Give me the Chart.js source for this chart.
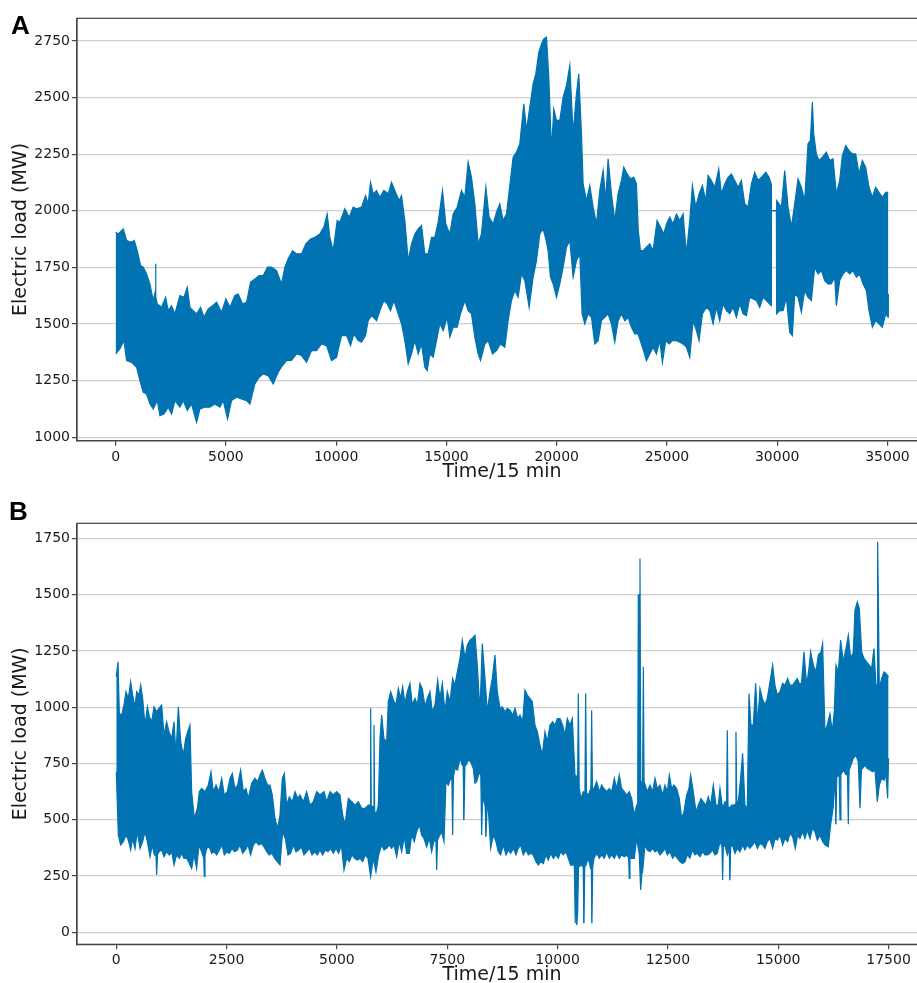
<!DOCTYPE html>
<html lang="en">
<head>
<meta charset="UTF-8">
<title>Electric load</title>
<script src="https://cdn.jsdelivr.net/npm/chart.js@4.4.0/dist/chart.umd.min.js"></script>
<style>
    body {
        margin: 0;
        width: 917px;
        height: 983px;
        overflow: hidden;
        background: #fff;
        position: relative;
    }

    canvas {
        position: absolute;
        left: 0;
    }

    .panel-letter {
        position: absolute;
        font-family: "Liberation Sans", Arial, sans-serif;
        font-weight: bold;
        font-size: 26px;
        line-height: 30px;
        color: #000;
    }
</style>
</head>
<body>
<canvas id="chartA" width="940" height="490" style="top:0;width:940px;height:490px"></canvas>
<canvas id="chartB" width="940" height="500" style="top:490px;width:940px;height:500px"></canvas>
<div class="panel-letter" style="left:11px;top:10px">A</div>
<div class="panel-letter" style="left:9px;top:496px">B</div>
<script>
    // panel A: upper and lower edge of the load band, [time step, MW]
    const loadAUpper = [[0, 1905], [119, 1898], [346, 1920], [497, 1869], [723, 1861], [844, 1869], [980, 1824],
        [1131, 1758], [1252, 1751], [1403, 1721], [1553, 1677], [1705, 1604], [1790, 1640], [1811, 1766], [1830, 1620],
        [1887, 1589], [2083, 1574], [2265, 1618], [2386, 1559], [2537, 1581], [2688, 1545], [2914, 1626], [3096, 1618],
        [3247, 1663], [3368, 1574], [3519, 1559], [3670, 1545], [3851, 1574], [4003, 1530], [4199, 1567], [4395, 1581],
        [4577, 1596], [4803, 1552], [5000, 1611], [5181, 1574], [5408, 1626], [5559, 1633], [5755, 1589], [5936, 1596],
        [6118, 1685], [6314, 1699], [6511, 1714], [6692, 1714], [6888, 1751], [7070, 1751], [7296, 1736], [7523, 1677],
        [7674, 1751], [7825, 1788], [8022, 1824], [8203, 1810], [8430, 1810], [8626, 1854], [8838, 1876], [9034, 1883],
        [9261, 1898], [9442, 1928], [9593, 1986], [9714, 1883], [9865, 1824], [10046, 1957], [10167, 1950],
        [10394, 2009], [10590, 1972], [10772, 2016], [10923, 2009], [11149, 2016], [11331, 2067], [11452, 2031],
        [11557, 2126], [11679, 2075], [11830, 2090], [11981, 2060], [12163, 2090], [12359, 2075], [12510, 2126],
        [12661, 2090], [12858, 2045], [12963, 2067], [13115, 1957], [13266, 1780], [13417, 1854], [13568, 1898],
        [13719, 1920], [13870, 1935], [14021, 1810], [14172, 1810], [14323, 1883], [14474, 1883], [14626, 1950],
        [14822, 2090], [14973, 1942], [15154, 1898], [15306, 1986], [15487, 2016], [15683, 2090], [15834, 2060],
        [15985, 2215], [16136, 2148], [16288, 2031], [16439, 1854], [16590, 1898], [16786, 2104], [16937, 1972],
        [17119, 1942], [17270, 1994], [17421, 2031], [17572, 1957], [17723, 1986], [17874, 2112], [18025, 2237],
        [18176, 2259], [18328, 2296], [18509, 2472], [18630, 2355], [18781, 2458], [18932, 2561], [19053, 2605],
        [19189, 2701], [19310, 2737], [19416, 2759], [19537, 2767], [19642, 2590], [19763, 2266], [19869, 2450],
        [19990, 2399], [20141, 2399], [20292, 2502], [20443, 2553], [20594, 2642], [20745, 2340], [20896, 2517],
        [21002, 2605], [21123, 2340], [21199, 2119], [21350, 2045], [21501, 2112], [21653, 2016], [21804, 1942],
        [21954, 2090], [22105, 2178], [22225, 2045], [22331, 2230], [22482, 2075], [22634, 1957], [22785, 2075],
        [22936, 2134], [23042, 2193], [23193, 2163], [23344, 2141], [23495, 2148], [23616, 2120], [23700, 1913],
        [23798, 1824], [23918, 1824], [24069, 1839], [24220, 1854], [24371, 1824], [24553, 1957], [24704, 1928],
        [24855, 1898], [24976, 1942], [25127, 1972], [25278, 1942], [25429, 1986], [25580, 1957], [25731, 1986],
        [25882, 1810], [26034, 1957], [26154, 2112], [26305, 2016], [26457, 2075], [26608, 2112], [26759, 2045],
        [26865, 2156], [27016, 2134], [27167, 2104], [27348, 2185], [27469, 2075], [27620, 2119], [27771, 2148],
        [27922, 2163], [28073, 2134], [28224, 2104], [28375, 2134], [28527, 2031], [28678, 2016], [28829, 2119],
        [28980, 2170], [29131, 2134], [29282, 2148], [29479, 2170], [29630, 2148], [29725, 2120], [29736, 2001],
        [29962, 2001], [29975, 2045], [30189, 2016], [30340, 2178], [30491, 2016], [30642, 1928], [30793, 2031],
        [30944, 2141], [31095, 2104], [31246, 2045], [31398, 2296], [31503, 2310], [31594, 2480], [31655, 2340],
        [31775, 2251], [31896, 2222], [32047, 2237], [32229, 2259], [32380, 2222], [32531, 2230], [32682, 2075],
        [32833, 2134], [32954, 2244], [33105, 2288], [33256, 2266], [33407, 2251], [33558, 2251], [33709, 2163],
        [33860, 2222], [34011, 2193], [34162, 2104], [34314, 2060], [34465, 2104], [34616, 2082], [34767, 2060],
        [34918, 2082], [35040, 2082]];
    const loadALower = [[0, 1368], [194, 1390], [376, 1427], [497, 1339], [723, 1331], [950, 1309], [1101, 1250],
        [1252, 1199], [1403, 1191], [1553, 1147], [1705, 1125], [1887, 1162], [2008, 1096], [2189, 1103], [2386, 1133],
        [2537, 1103], [2688, 1162], [2914, 1133], [3066, 1162], [3247, 1118], [3443, 1147], [3670, 1066], [3821, 1125],
        [4048, 1133], [4274, 1133], [4501, 1147], [4728, 1133], [4879, 1162], [5075, 1081], [5256, 1162], [5483, 1177],
        [5710, 1169], [5936, 1162], [6088, 1147], [6314, 1236], [6511, 1265], [6692, 1280], [6919, 1272], [7145, 1236],
        [7372, 1287], [7568, 1317], [7750, 1339], [7976, 1339], [8203, 1368], [8430, 1361], [8656, 1331], [8883, 1383],
        [9110, 1383], [9336, 1412], [9563, 1405], [9790, 1339], [10016, 1353], [10243, 1449], [10470, 1449],
        [10651, 1405], [10802, 1456], [10999, 1427], [11149, 1420], [11331, 1449], [11452, 1515], [11603, 1537],
        [11830, 1515], [11981, 1559], [12163, 1604], [12314, 1589], [12465, 1559], [12616, 1604], [12812, 1545],
        [12963, 1501], [13115, 1427], [13266, 1324], [13417, 1368], [13568, 1427], [13719, 1368], [13870, 1412],
        [14021, 1309], [14127, 1294], [14248, 1368], [14399, 1353], [14550, 1427], [14701, 1501], [14852, 1471],
        [15034, 1530], [15154, 1442], [15306, 1486], [15487, 1486], [15638, 1545], [15834, 1604], [15985, 1559],
        [16136, 1545], [16288, 1442], [16439, 1368], [16545, 1339], [16741, 1412], [16892, 1427], [17089, 1368],
        [17270, 1383], [17451, 1412], [17648, 1398], [17799, 1515], [17950, 1604], [18101, 1648], [18252, 1618],
        [18403, 1721], [18554, 1692], [18751, 1574], [18932, 1707], [19083, 1780], [19234, 1898], [19385, 1920],
        [19506, 1876], [19612, 1824], [19718, 1707], [19839, 1677], [19990, 1618], [20141, 1677], [20292, 1751],
        [20443, 1839], [20594, 1869], [20745, 1707], [20896, 1780], [21047, 1810], [21153, 1545], [21274, 1501],
        [21425, 1545], [21576, 1530], [21727, 1412], [21879, 1427], [22030, 1515], [22181, 1530], [22331, 1545],
        [22482, 1501], [22634, 1420], [22785, 1515], [22936, 1545], [23087, 1515], [23238, 1530], [23389, 1486],
        [23540, 1456], [23691, 1456], [23888, 1398], [24069, 1339], [24220, 1368], [24371, 1398], [24522, 1368],
        [24674, 1427], [24794, 1331], [24946, 1427], [25097, 1412], [25248, 1427], [25429, 1427], [25580, 1420],
        [25731, 1412], [25882, 1398], [26034, 1353], [26185, 1515], [26336, 1471], [26457, 1427], [26608, 1545],
        [26789, 1574], [26940, 1559], [27091, 1501], [27242, 1574], [27393, 1515], [27545, 1589], [27696, 1559],
        [27847, 1545], [27998, 1574], [28149, 1530], [28300, 1589], [28451, 1545], [28602, 1537], [28753, 1618],
        [28905, 1611], [29056, 1604], [29207, 1574], [29358, 1618], [29509, 1604], [29725, 1581], [29736, 2001],
        [29962, 2001], [29975, 1545], [30113, 1559], [30264, 1559], [30415, 1618], [30567, 1464], [30687, 1449],
        [30793, 1633], [30944, 1618], [31095, 1552], [31246, 1648], [31398, 1618], [31549, 1604], [31700, 1751],
        [31851, 1721], [32002, 1736], [32153, 1692], [32304, 1677], [32455, 1677], [32606, 1707], [32682, 1581],
        [32833, 1692], [32984, 1721], [33135, 1736], [33286, 1721], [33437, 1736], [33588, 1707], [33740, 1721],
        [33891, 1677], [34042, 1648], [34162, 1559], [34314, 1486], [34465, 1515], [34616, 1501], [34767, 1486],
        [34918, 1545], [35024, 1530], [35040, 1633]];

    // panel B
    const loadBUpper = [[0, 1135], [39, 1202], [69, 972], [122, 965], [175, 1010], [220, 1069], [273, 1039], [326, 1113],
        [371, 1054], [424, 1002], [462, 1069], [515, 1054], [553, 1098], [598, 1039], [651, 920], [704, 1002], [749, 958],
        [802, 935], [855, 1002], [915, 980], [968, 995], [1028, 1010], [1081, 876], [1142, 935], [1194, 891], [1255, 861],
        [1308, 935], [1353, 787], [1406, 1002], [1459, 847], [1519, 787], [1572, 861], [1618, 891], [1670, 920],
        [1708, 625], [1769, 506], [1837, 551], [1882, 625], [1935, 639], [2010, 625], [2086, 654], [2146, 713],
        [2199, 625], [2260, 654], [2327, 625], [2388, 684], [2448, 610], [2516, 625], [2577, 684], [2630, 706],
        [2690, 639], [2750, 654], [2818, 721], [2879, 625], [2939, 639], [2992, 595], [3068, 662], [3143, 684],
        [3204, 669], [3257, 699], [3309, 721], [3370, 684], [3430, 654], [3483, 654], [3536, 610], [3596, 506],
        [3657, 462], [3710, 521], [3763, 684], [3808, 706], [3861, 565], [3921, 602], [3989, 580], [4050, 625],
        [4110, 595], [4163, 610], [4238, 580], [4314, 625], [4390, 565], [4465, 580], [4541, 625], [4616, 610],
        [4707, 625], [4767, 580], [4843, 625], [4918, 610], [4994, 625], [5069, 610], [5130, 521], [5182, 477],
        [5258, 595], [5334, 580], [5409, 565], [5485, 580], [5560, 551], [5636, 551], [5711, 565], [5750, 565],
        [5764, 995], [5778, 560], [5825, 560], [5840, 921], [5855, 540], [5885, 521], [5938, 565], [5976, 861],
        [6013, 965], [6066, 861], [6127, 847], [6164, 1024], [6217, 1069], [6278, 1032], [6338, 1010], [6391, 1083],
        [6444, 1039], [6489, 1091], [6542, 1017], [6595, 1069], [6655, 1106], [6708, 1010], [6769, 1039], [6822, 1010],
        [6882, 1106], [6935, 1083], [6995, 1002], [7048, 1039], [7109, 1069], [7161, 980], [7222, 1010], [7282, 1120],
        [7335, 1039], [7388, 1106], [7448, 980], [7501, 1069], [7562, 1024], [7622, 1128], [7675, 1098], [7728, 1157],
        [7788, 1217], [7841, 1298], [7902, 1217], [7954, 1276], [8015, 1298], [8068, 1306], [8128, 1320], [8181, 1187],
        [8241, 980], [8294, 1283], [8355, 1128], [8408, 980], [8468, 1069], [8521, 1128], [8581, 1232], [8634, 1069],
        [8695, 995], [8748, 1002], [8808, 980], [8861, 995], [8921, 987], [8982, 965], [9035, 995], [9095, 950],
        [9148, 965], [9208, 935], [9261, 1076], [9314, 1054], [9374, 1039], [9427, 1024], [9488, 920], [9541, 891],
        [9601, 832], [9654, 787], [9714, 891], [9767, 847], [9828, 920], [9888, 935], [9941, 920], [9994, 950],
        [10054, 950], [10115, 920], [10167, 876], [10220, 950], [10281, 920], [10334, 950], [10394, 699], [10455, 690],
        [10470, 1061], [10490, 640], [10530, 595], [10583, 625], [10620, 620], [10636, 1061], [10655, 620],
        [10696, 610], [10755, 640], [10772, 987], [10790, 640], [10825, 639], [10885, 669], [10946, 625], [10998, 654],
        [11051, 639], [11112, 625], [11172, 639], [11225, 625], [11285, 684], [11338, 639], [11398, 699], [11451, 639],
        [11512, 625], [11565, 610], [11625, 625], [11678, 595], [11738, 521], [11791, 565], [11815, 560],
        [11829, 1498], [11850, 1500], [11867, 1661], [11885, 669], [11927, 669], [11943, 1180], [11960, 669],
        [11980, 669], [12033, 625], [12094, 654], [12154, 625], [12207, 684], [12260, 639], [12320, 654], [12381, 610],
        [12433, 654], [12486, 625], [12532, 699], [12585, 639], [12637, 654], [12698, 639], [12758, 595], [12811, 506],
        [12864, 536], [12924, 610], [12977, 639], [13015, 699], [13075, 625], [13136, 536], [13189, 565], [13249, 595],
        [13302, 580], [13362, 565], [13415, 602], [13468, 565], [13529, 654], [13589, 565], [13642, 565], [13680, 639],
        [13740, 551], [13793, 580], [13830, 580], [13846, 898], [13862, 560], [13891, 551], [13944, 565], [13997, 565],
        [14025, 570], [14042, 891], [14060, 580], [14095, 580], [14148, 684], [14193, 795], [14246, 565], [14299, 551],
        [14337, 1061], [14382, 921], [14435, 921], [14488, 1106], [14533, 921], [14586, 1083], [14639, 1039],
        [14699, 1010], [14752, 1039], [14813, 1113], [14873, 1187], [14926, 1098], [14979, 1054], [15039, 1069],
        [15100, 1106], [15153, 1098], [15213, 1128], [15266, 1098], [15326, 1098], [15379, 1113], [15432, 1128],
        [15492, 1098], [15530, 1113], [15583, 1246], [15644, 1098], [15696, 1172], [15734, 1246], [15795, 1187],
        [15855, 1157], [15908, 1232], [15968, 1246], [16006, 1283], [16059, 891], [16112, 921], [16172, 972],
        [16225, 891], [16270, 980], [16308, 1187], [16361, 1157], [16414, 1298], [16474, 1202], [16535, 1261],
        [16588, 1320], [16641, 1217], [16701, 1246], [16739, 1431], [16792, 1468], [16837, 1439], [16890, 1246],
        [16943, 1217], [17003, 1202], [17063, 1187], [17116, 1172], [17169, 1261], [17215, 1098], [17240, 1100],
        [17252, 1735], [17270, 1460], [17290, 1083], [17343, 1128], [17396, 1157], [17441, 1150], [17500, 1135]];
    const loadBLower = [[0, 713], [46, 432], [99, 388], [160, 403], [220, 432], [273, 410], [326, 366], [371, 417],
        [424, 373], [477, 447], [537, 373], [598, 403], [651, 447], [704, 403], [764, 336], [817, 388], [862, 344],
        [900, 340], [915, 255], [935, 345], [968, 358], [1028, 366], [1081, 336], [1142, 358], [1202, 344], [1255, 358],
        [1308, 299], [1368, 344], [1429, 329], [1482, 351], [1534, 329], [1595, 329], [1655, 306], [1708, 284],
        [1761, 344], [1821, 284], [1874, 388], [1935, 358], [1980, 330], [1995, 247], [2010, 340], [2048, 373],
        [2108, 380], [2161, 351], [2222, 358], [2275, 344], [2335, 366], [2395, 388], [2448, 344], [2501, 358],
        [2562, 351], [2622, 373], [2682, 358], [2743, 366], [2803, 388], [2864, 351], [2924, 366], [2984, 388],
        [3045, 344], [3105, 388], [3166, 403], [3226, 388], [3287, 395], [3347, 380], [3408, 358], [3468, 344],
        [3528, 351], [3589, 329], [3649, 314], [3710, 299], [3770, 447], [3830, 417], [3891, 344], [3951, 351],
        [4012, 388], [4072, 358], [4133, 366], [4193, 380], [4253, 344], [4314, 358], [4374, 373], [4435, 344],
        [4495, 358], [4556, 344], [4616, 366], [4677, 344], [4737, 366], [4797, 358], [4858, 373], [4918, 351],
        [4979, 373], [5039, 351], [5100, 388], [5160, 277], [5220, 329], [5281, 314], [5341, 344], [5401, 329],
        [5462, 321], [5522, 329], [5583, 314], [5643, 344], [5703, 329], [5764, 247], [5824, 329], [5885, 269],
        [5945, 344], [6013, 388], [6066, 366], [6127, 373], [6187, 388], [6240, 373], [6293, 388], [6353, 336],
        [6414, 403], [6467, 358], [6527, 425], [6580, 351], [6640, 351], [6693, 432], [6753, 403], [6806, 447],
        [6867, 477], [6920, 432], [6973, 417], [7033, 380], [7093, 417], [7146, 358], [7199, 410], [7245, 400],
        [7260, 277], [7280, 410], [7312, 425], [7373, 447], [7426, 403], [7471, 669], [7524, 654], [7577, 684],
        [7605, 680], [7622, 432], [7640, 690], [7675, 728], [7735, 721], [7788, 773], [7841, 743], [7860, 740],
        [7879, 499], [7900, 740], [7924, 743], [7977, 765], [8030, 758], [8090, 728], [8128, 662], [8166, 669],
        [8219, 706], [8260, 700], [8279, 432], [8300, 600], [8332, 580], [8360, 560], [8377, 425], [8400, 540],
        [8430, 551], [8483, 373], [8544, 432], [8604, 403], [8657, 358], [8710, 344], [8770, 388], [8831, 344],
        [8884, 366], [8936, 351], [8997, 373], [9057, 344], [9110, 373], [9163, 388], [9223, 344], [9284, 366],
        [9337, 344], [9390, 351], [9450, 344], [9510, 314], [9563, 299], [9616, 314], [9677, 306], [9737, 344],
        [9790, 321], [9843, 351], [9903, 329], [9963, 344], [10016, 329], [10069, 358], [10130, 344], [10190, 358],
        [10243, 329], [10296, 299], [10380, 300], [10400, 40], [10418, 260], [10435, 33], [10455, 90], [10475, 290],
        [10545, 299], [10580, 290],
        [10598, 40], [10615, 290], [10643, 299], [10696, 329], [10749, 284], [10765, 280], [10779, 40], [10795, 290],
        [10825, 329], [10885, 351], [10946, 329], [10998, 344], [11059, 329], [11112, 358], [11172, 329], [11225, 344],
        [11285, 329], [11338, 351], [11398, 329], [11451, 344], [11512, 336], [11565, 344], [11610, 330], [11625, 240],
        [11640, 330], [11678, 329], [11738, 329], [11791, 417], [11852, 344], [11882, 188], [11910, 260], [11927, 269],
        [11980, 388], [12033, 366], [12094, 358], [12154, 373], [12207, 358], [12260, 366], [12320, 344], [12381, 358],
        [12433, 373], [12486, 344], [12547, 358], [12607, 329], [12660, 344], [12713, 329], [12773, 314], [12834, 306],
        [12887, 314], [12940, 344], [13000, 329], [13053, 366], [13113, 344], [13166, 351], [13226, 336], [13287, 358],
        [13340, 344], [13400, 344], [13453, 351], [13513, 366], [13566, 344], [13619, 351], [13680, 403], [13725, 380],
        [13740, 232], [13755, 380], [13793, 388], [13846, 344], [13890, 370], [13906, 232], [13922, 380], [13959, 388],
        [14020, 351], [14073, 373], [14133, 358], [14193, 388], [14246, 366], [14299, 388], [14360, 373], [14420, 388],
        [14473, 403], [14526, 373], [14586, 395], [14647, 388], [14699, 373], [14752, 403], [14813, 417], [14873, 373],
        [14926, 417], [14979, 410], [15039, 432], [15100, 388], [15153, 417], [15213, 403], [15266, 440], [15326, 425],
        [15387, 373], [15440, 432], [15492, 417], [15553, 447], [15606, 417], [15659, 454], [15719, 417], [15779, 462],
        [15832, 447], [15885, 410], [15946, 432], [16006, 403], [16066, 388], [16134, 380], [16187, 477], [16248, 560],
        [16290, 700], [16308, 480], [16325, 690], [16380, 700], [16400, 500], [16420, 700], [16474, 720], [16535, 700],
        [16570, 700], [16588, 480], [16605, 720], [16641, 740], [16701, 773], [16762, 787], [16814, 758], [16852, 551],
        [16890, 740], [16913, 728], [16965, 743], [17018, 728], [17079, 721], [17139, 713], [17192, 721], [17245, 580],
        [17290, 654], [17343, 684], [17396, 676], [17441, 699], [17479, 595], [17500, 773]];

    const xTicksA = [0, 5000, 10000, 15000, 20000, 25000, 30000, 35000];
    const yTicksA = [1000, 1250, 1500, 1750, 2000, 2250, 2500, 2750];
    const xTicksB = [0, 2500, 5000, 7500, 10000, 12500, 15000, 17500];
    const yTicksB = [0, 250, 500, 750, 1000, 1250, 1500, 1750];

    const blue = '#0173b2';
    const axisColor = '#444';
    const textColor = '#1a1a1a';
    const family = '"DejaVu Sans", sans-serif';

    const framePlugin = {
        id: 'frame',
        afterDatasetsDraw(chart) {
            const { ctx, chartArea: a } = chart;
            ctx.save();
            ctx.strokeStyle = axisColor;
            ctx.lineWidth = 1.2;
            ctx.strokeRect(a.left, a.top, a.right - a.left, a.bottom - a.top);
            ctx.restore();
        }
    };

    function toPoints(list) {
        return list.map(function (p) {
            return { x: p[0], y: p[1] };
        });
    }

    function drawPanel(id, upper, lower, cfg) {
        const ctx = document.getElementById(id).getContext('2d');
        return new Chart(ctx, {
            type: 'line',
            data: {
                datasets: [{
                    data: toPoints(upper),
                    borderColor: blue,
                    backgroundColor: blue,
                    borderWidth: 1.2,
                    pointRadius: 0,
                    tension: 0,
                    fill: '+1'
                }, {
                    data: toPoints(lower),
                    borderColor: blue,
                    backgroundColor: blue,
                    borderWidth: 1.2,
                    pointRadius: 0,
                    tension: 0,
                    fill: false
                }]
            },
            options: {
                responsive: false,
                animation: false,
                events: [],
                layout: { padding: { top: cfg.padTop, right: 13, left: 0, bottom: 0 } },
                plugins: { legend: { display: false }, tooltip: { enabled: false } },
                scales: {
                    x: {
                        type: 'linear',
                        min: cfg.xMin,
                        max: cfg.xMax,
                        afterBuildTicks: function (s) { s.ticks = cfg.xTicks.map(v => ({ value: v })); },
                        afterFit: function (s) { s.height = cfg.xHeight; },
                        ticks: {
                            autoSkip: false, maxRotation: 0, padding: 3, color: textColor,
                            font: { family: family, size: 14 },
                            callback: v => String(v)
                        },
                        grid: { drawOnChartArea: false, drawTicks: true, tickLength: 5, tickColor: axisColor, lineWidth: 1.2 },
                        border: { display: true, color: axisColor, width: 1.2 },
                        title: {
                            display: true, text: 'Time/15 min', color: textColor,
                            font: { family: family, size: 19 },
                            padding: { top: 0, bottom: cfg.titlePad }
                        }
                    },
                    y: {
                        min: cfg.yMin,
                        max: cfg.yMax,
                        afterBuildTicks: function (s) { s.ticks = cfg.yTicks.map(v => ({ value: v })); },
                        afterFit: function (s) { s.width = 77; },
                        ticks: {
                            padding: 2, color: textColor,
                            font: { family: family, size: 14 },
                            callback: v => String(v)
                        },
                        grid: { color: '#d0d0d0', lineWidth: 1.2, tickLength: 5, tickColor: axisColor },
                        border: { display: true, color: axisColor, width: 1.2 },
                        title: {
                            display: true, text: 'Electric load (MW)', color: textColor,
                            font: { family: family, size: 19 },
                            padding: { top: 10, bottom: 0 }
                        }
                    }
                }
            },
            plugins: [framePlugin]
        });
    }

    drawPanel('chartA', loadAUpper, loadALower, {
        xMin: -1752, xMax: 36792, yMin: 985, yMax: 2850,
        xTicks: xTicksA, yTicks: yTicksA, padTop: 18.3, xHeight: 49.3, titlePad: 6.6
    });
    drawPanel('chartB', loadBUpper, loadBLower, {
        xMin: -890, xMax: 18371, yMin: -53, yMax: 1817,
        xTicks: xTicksB, yTicks: yTicksB, padTop: 33.3, xHeight: 45.7, titlePad: 3.6
    });
</script>
</body>
</html>
